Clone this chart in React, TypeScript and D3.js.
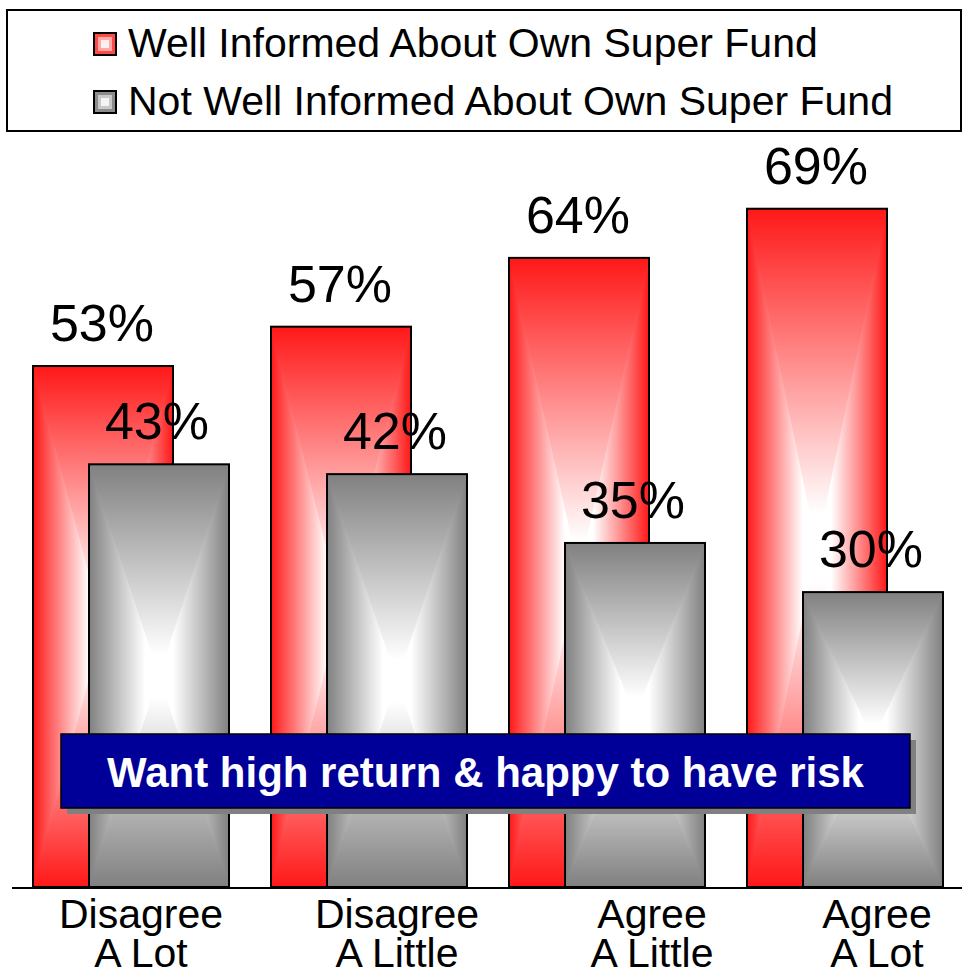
import React from "react";
import * as d3 from "d3";

// ---------- data ----------
const categories = ["Disagree A Lot", "Disagree A Little", "Agree A Little", "Agree A Lot"];
const categoryLines = [
  ["Disagree", "A Lot"],
  ["Disagree", "A Little"],
  ["Agree", "A Little"],
  ["Agree", "A Lot"],
];
const wellInformed = [53, 57, 64, 69];
const notWellInformed = [43, 42, 35, 30];
const seriesNames = ["Well Informed About Own Super Fund", "Not Well Informed About Own Super Fund"];
const bannerText = "Want high return & happy to have risk";

// ---------- layout ----------
const W = 962;
const H = 975;
const FONT = "'Liberation Sans', Arial, Helvetica, sans-serif";
const BAR_W = 140;
const RED_OFF = 21;
const GREY_OFF = 77;
const labelShift = [10, 28, 45, 32];
const RED = "#ff1818";
const GREY = "#808080";

const x = d3.scaleBand<string>().domain(categories).range([12, 964]).paddingInner(0).paddingOuter(0);
const y = d3.scaleLinear().domain([0, 100]).range([887, 887 - 983]);

function GradDefs({ id, color }: { id: string; color: string }) {
  return (
    <>
      <linearGradient id={`${id}-v`} x1="0" y1="0" x2="0" y2="1">
        <stop offset="0" stopColor={color} />
        <stop offset="0.45" stopColor="#ffffff" />
        <stop offset="0.55" stopColor="#ffffff" />
        <stop offset="1" stopColor={color} />
      </linearGradient>
      <linearGradient id={`${id}-l`} x1="0" y1="0" x2="1" y2="0">
        <stop offset="0" stopColor={color} />
        <stop offset="0.8" stopColor="#ffffff" />
        <stop offset="1" stopColor="#ffffff" />
      </linearGradient>
      <linearGradient id={`${id}-r`} x1="1" y1="0" x2="0" y2="0">
        <stop offset="0" stopColor={color} />
        <stop offset="0.8" stopColor="#ffffff" />
        <stop offset="1" stopColor="#ffffff" />
      </linearGradient>
    </>
  );
}

function Bar({ x0, value, id }: { x0: number; value: number; id: string }) {
  const top = y(value);
  const bottom = y(0);
  const x1 = x0 + BAR_W;
  const cx = x0 + BAR_W / 2;
  const cy = top + (bottom - top) * 0.5;
  return (
    <g>
      <rect x={x0} y={top} width={BAR_W} height={bottom - top} fill={`url(#${id}-v)`} />
      <path d={`M${x0},${top}L${cx},${cy}L${x0},${bottom}Z`} fill={`url(#${id}-l)`} />
      <path d={`M${x1},${top}L${cx},${cy}L${x1},${bottom}Z`} fill={`url(#${id}-r)`} />
      <rect x={x0} y={top} width={BAR_W} height={bottom - top} fill="none" stroke="#000" strokeWidth={2} />
    </g>
  );
}

function Swatch({ x0, y0, kind }: { x0: number; y0: number; kind: "red" | "grey" }) {
  const c1 = kind === "red" ? "#ff4a4a" : "#8c8c8c";
  const c2 = kind === "red" ? "#ffa8a8" : "#c8c8c8";
  const c3 = kind === "red" ? "#fff0f0" : "#f4f4f4";
  return (
    <g>
      <rect x={x0} y={y0} width={22} height={22} fill={c1} stroke="#000" strokeWidth={2} />
      <rect x={x0 + 4} y={y0 + 4} width={14} height={14} fill={c2} />
      <rect x={x0 + 7} y={y0 + 7} width={8} height={8} fill={c3} />
    </g>
  );
}

export default function App() {
  return (
    <svg
      width={W}
      height={H}
      viewBox={`0 0 ${W} ${H}`}
      style={{ position: "absolute", left: 0, top: 0, background: "#fff" }}
      fontFamily={FONT}
    >
      <defs>
        <GradDefs id="gr" color={RED} />
        <GradDefs id="gg" color={GREY} />
      </defs>
      <rect x={0} y={0} width={W} height={H} fill="#fff" />

      {/* Legend */}
      <rect x={7} y={10} width={954} height={121} fill="#fff" stroke="#000" strokeWidth={2} />
      <Swatch x0={94} y0={33} kind="red" />
      <Swatch x0={94} y0={91} kind="grey" />
      <text x={128} y={57} fontSize={41} fill="#000">{seriesNames[0]}</text>
      <text x={128} y={115} fontSize={41} fill="#000">{seriesNames[1]}</text>

      {/* Bars */}
      {categories.map((c, i) => {
        const bx = x(c)!;
        return (
          <g key={c}>
            <Bar x0={bx + RED_OFF} value={wellInformed[i]} id="gr" />
            <Bar x0={bx + GREY_OFF} value={notWellInformed[i]} id="gg" />
          </g>
        );
      })}

      {/* Value labels */}
      {categories.map((c, i) => {
        const bx = x(c)!;
        return (
          <g key={`l-${c}`} fontSize={52} fill="#000" textAnchor="middle">
            <text x={bx + RED_OFF + BAR_W / 2 - 1} y={y(wellInformed[i]) - 25}>{wellInformed[i]}%</text>
            <text x={bx + GREY_OFF + BAR_W / 2 - 2} y={y(notWellInformed[i]) - 25}>{notWellInformed[i]}%</text>
          </g>
        );
      })}

      {/* Axis line */}
      <line x1={12} x2={962} y1={y(0) + 1} y2={y(0) + 1} stroke="#000" strokeWidth={2} />

      {/* Category labels */}
      {categories.map((c, i) => {
        const cx = x(c)! + x.bandwidth() / 2 + labelShift[i];
        return (
          <text key={`c-${c}`} x={cx} textAnchor="middle" fontSize={41} fill="#000">
            <tspan x={cx} y={928}>{categoryLines[i][0]}</tspan>
            <tspan x={cx} y={967}>{categoryLines[i][1]}</tspan>
          </text>
        );
      })}

      {/* Banner */}
      <rect x={67} y={740} width={849} height={74} fill="#808080" />
      <rect x={61} y={734} width={849} height={74} fill="#000099" stroke="#000" strokeWidth={1.5} />
      <text x={485.5} y={787} textAnchor="middle" fontSize={42} fontWeight="bold" fill="#fff">
        {bannerText}
      </text>
    </svg>
  );
}
